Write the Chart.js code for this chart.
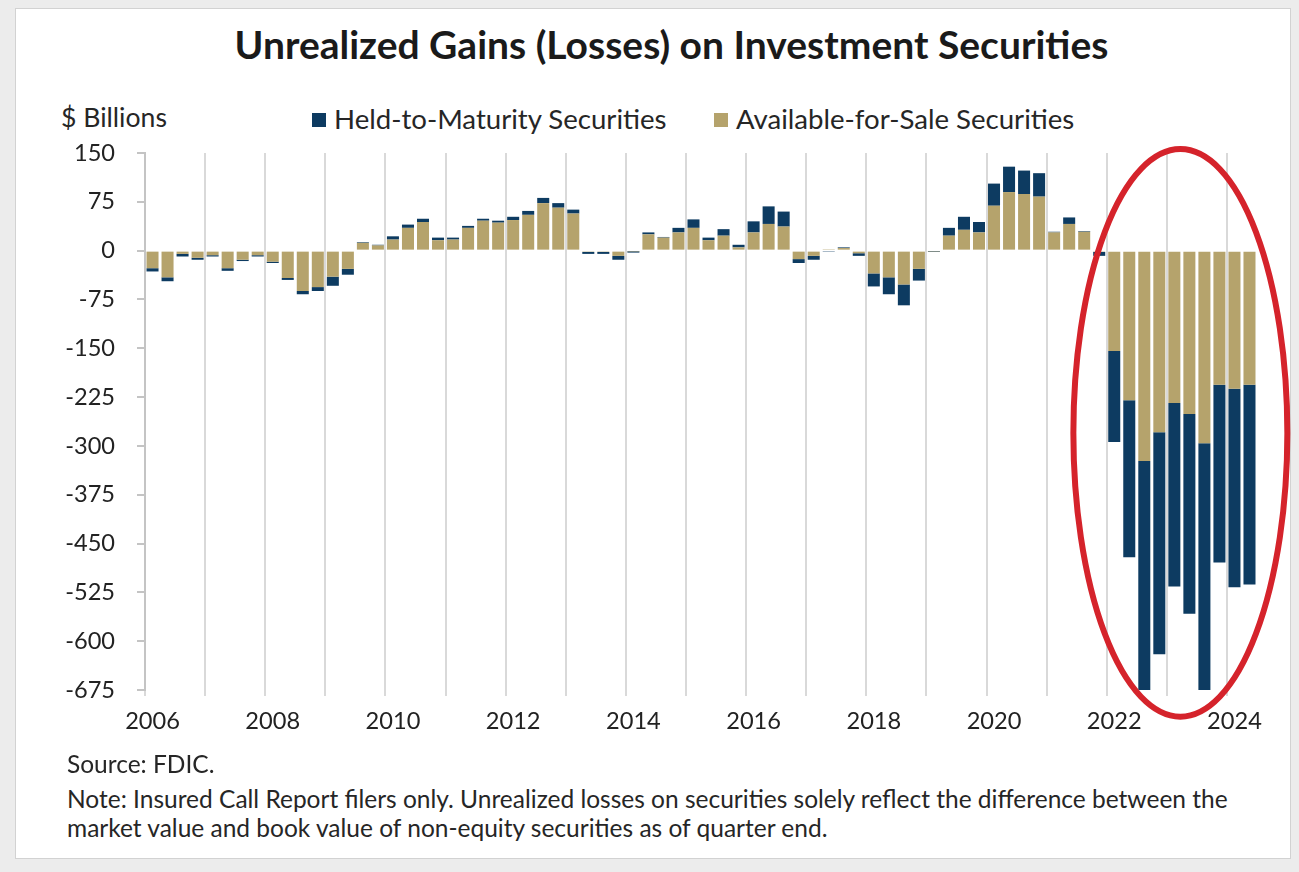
<!DOCTYPE html>
<html>
<head>
<meta charset="utf-8">
<script src="https://cdn.jsdelivr.net/npm/chart.js@4.4.1/dist/chart.umd.min.js"></script>
<style>
  html, body { margin:0; padding:0; width:1299px; height:872px; overflow:hidden; background:#ececec; }
  #panel { position:absolute; left:15px; top:8px; width:1274px; height:849px; background:#fff; border:1px solid #d2d2d2; }
  .txt { position:absolute; white-space:nowrap; line-height:1; color:#262626; font-family:Lato, "Open Sans", sans-serif; }
  #title { font-weight:700; color:#1a1a1a; }
  #chartCanvas { position:absolute; left:15px; top:130px; }
  .lg-box { position:absolute; width:14px; height:14px; }
</style>
</head>
<body>
<div id="panel"></div>
<div id="title" class="txt">Unrealized Gains (Losses) on Investment Securities</div>
<div id="yunit" class="txt">$ Billions</div>
<div id="legend"></div>
<canvas id="chartCanvas" width="1276" height="620"></canvas>
<div id="src" class="txt">Source: FDIC.</div>
<div id="note1" class="txt">Note: Insured Call Report filers only. Unrealized losses on securities solely reflect the difference between the</div>
<div id="note2" class="txt">market value and book value of non-equity securities as of quarter end.</div>
<script>
// ---------------- DATA ----------------
const years = [2006,2007,2008,2009,2010,2011,2012,2013,2014,2015,2016,2017,2018,2019,2020,2021,2022,2023,2024];
const quarterNames = ['Q1','Q2','Q3','Q4'];
const lastQuarterCount = 2; // data ends 2024 Q2
const yearTickLabels = ['2006','2008','2010','2012','2014','2016','2018','2020','2022','2024'];
const yTickValues = [150,75,0,-75,-150,-225,-300,-375,-450,-525,-600,-675];

// Available-for-Sale unrealized gains (losses), $ billions, quarterly 2006Q1..2024Q2
const afsValues = [
  -27,-41,-5,-11,      // 2006
  -7,-27,-14,-7,       // 2007
  -17,-42,-62,-56,     // 2008
  -40,-28,12,8,        // 2009
  17,35,44,16,         // 2010
  17,35,46,43,         // 2011
  47,55,73,66,         // 2012
  57,-2,-2,-8,         // 2013
  -1,25,20,28,         // 2014
  35,16,23,5,          // 2015
  28,41,37,-13,        // 2016
  -8,1,4,-4,           // 2017
  -35,-41,-52,-28,     // 2018
  -1,23,32,28,         // 2019
  69,90,87,83,         // 2020
  28,41,29,-2,         // 2021
  -154,-230,-323,-279, // 2022
  -234,-251,-296,-206, // 2023
  -212,-206            // 2024
];
// Held-to-Maturity unrealized gains (losses), $ billions
const htmValues = [
  -5,-6,-4,-3,
  -2,-4,-2,-2,
  -2,-3,-5,-6,
  -14,-9,1,1,
  5,5,5,4,
  3,3,3,3,
  5,6,8,7,
  6,-3,-3,-6,
  -2,3,1,7,
  13,4,10,4,
  17,27,23,-6,
  -6,-1,1,-4,
  -20,-26,-32,-18,
  -1,12,20,16,
  34,39,36,36,
  1,10,1,-6,
  -140,-241,-367,-341,
  -282,-307,-388,-273,
  -305,-307
];

const quarterLabels = [];
years.forEach((yr, yi) => {
  const n = yi === years.length - 1 ? lastQuarterCount : 4;
  for (let q = 0; q < n; q++) quarterLabels.push(yr + ' ' + quarterNames[q]);
});

// ---------------- FONTS / TEXT LAYOUT ----------------
const FAMILY = 'Lato, "Open Sans", sans-serif';
const mctx = document.createElement('canvas').getContext('2d');
function measure(text, weight, size) { mctx.font = weight + ' ' + size + 'px ' + FAMILY; return mctx.measureText(text).width; }
function fitSize(text, weight, target) { return Math.round(100 * target / measure(text, weight, 100) * 10) / 10; }
const noteSize = fitSize(document.getElementById('note1').textContent, 400, 1161);
const titleSize = fitSize(document.getElementById('title').textContent, 700, 873);
const unitSize = fitSize('$ Billions', 400, 106);
const legendSize = fitSize('Held-to-Maturity Securities', 400, 333);
const tickSize = fitSize('150', 400, 41);

function place(id, size, left, cy, center) {
  const el = document.getElementById(id);
  el.style.fontSize = size + 'px';
  el.style.top = (cy - size * 0.53) + 'px';
  el.style.left = left + 'px';
  if (center) el.style.transform = 'translateX(-50%)';
  return el;
}
place('title', titleSize, 671.5, 46, true);
place('yunit', unitSize, 61, 118, false);
place('src', noteSize, 67, 765, false);
place('note1', noteSize, 67, 800, false);
place('note2', noteSize, 67, 829, false);

// ---------------- PLUGINS ----------------
const legendLefts = [312, 714];
const htmlLegend = {
  id: 'htmlLegend',
  afterUpdate(chart) {
    const host = document.getElementById('legend');
    host.innerHTML = '';
    const items = Chart.defaults.plugins.legend.labels.generateLabels(chart).reverse();
    items.forEach((item, i) => {
      const box = document.createElement('div');
      box.className = 'lg-box';
      box.style.background = item.fillStyle;
      box.style.left = legendLefts[i] + 'px';
      box.style.top = (120 - 7) + 'px';
      host.appendChild(box);
      const t = document.createElement('div');
      t.className = 'txt';
      t.textContent = item.text;
      t.style.fontSize = legendSize + 'px';
      t.style.left = (legendLefts[i] + 22) + 'px';
      t.style.top = (120 - legendSize * 0.53) + 'px';
      host.appendChild(t);
    });
  }
};

// red highlight ellipse (annotation), defined in data units
const highlight = { centerIndex: 68.4, halfWidthIndex: 7.12, centerValue: -280, halfHeightValue: 436, color: '#d5232b', width: 6 };
const ellipsePlugin = {
  id: 'highlightEllipse',
  afterDraw(chart) {
    const { ctx, scales: { x, y } } = chart;
    const cx = x.getPixelForValue(highlight.centerIndex);
    const rx = x.getPixelForValue(highlight.centerIndex + highlight.halfWidthIndex) - cx;
    const cy = y.getPixelForValue(highlight.centerValue);
    const ry = Math.abs(y.getPixelForValue(highlight.centerValue + highlight.halfHeightValue) - cy);
    ctx.save();
    ctx.beginPath();
    ctx.ellipse(cx, cy, rx, ry, 0, 0, Math.PI * 2);
    ctx.strokeStyle = highlight.color;
    ctx.lineWidth = highlight.width;
    ctx.stroke();
    ctx.restore();
  }
};

// ---------------- CHART ----------------
const gridGray = '#d9d9d9';
new Chart(document.getElementById('chartCanvas'), {
  type: 'bar',
  data: {
    labels: quarterLabels,
    datasets: [
      { label: 'Available-for-Sale Securities', data: afsValues, backgroundColor: '#b5a36c', stack: 's' },
      { label: 'Held-to-Maturity Securities', data: htmValues, backgroundColor: '#0d3b61', stack: 's' }
    ]
  },
  options: {
    responsive: false,
    animation: false,
    layout: { padding: { top: 23, right: 34, left: 0, bottom: 0 } },
    datasets: { bar: { barPercentage: 0.8, categoryPercentage: 1.0 } },
    plugins: { legend: { display: false }, title: { display: false }, tooltip: { enabled: false } },
    scales: {
      x: {
        stacked: true,
        offset: true,
        grid: {
          offset: true,
          color: (c) => (c.type === 'tick' && c.index % 4 === 0) ? gridGray : 'rgba(0,0,0,0)',
          lineWidth: 2,
          drawTicks: true,
          tickLength: 6
        },
        border: { display: false },
        ticks: {
          autoSkip: false, maxRotation: 0, minRotation: 0, padding: 11,
          color: '#222', font: { family: FAMILY, size: tickSize },
          callback: function (v, i) {
            const lab = quarterLabels[i];
            const yr = lab.slice(0, 4);
            return (lab.endsWith('Q1') && yearTickLabels.includes(yr)) ? yr : '';
          }
        },
        afterFit: (s) => { s.height = 60; s.paddingLeft = 0; s.paddingRight = 0; }
      },
      y: {
        stacked: true,
        min: yTickValues[yTickValues.length - 1],
        max: yTickValues[0],
        afterBuildTicks: (s) => { s.ticks = yTickValues.map(v => ({ value: v })); },
        ticks: { padding: 22, color: '#222', font: { family: FAMILY, size: tickSize }, callback: (v) => String(v) },
        grid: { drawOnChartArea: false, drawTicks: true, tickLength: 8, color: '#c4c4c4', lineWidth: 2 },
        border: { display: true, color: '#c4c4c4', width: 2 },
        afterFit: (s) => { s.width = 130; s.paddingTop = 0; s.paddingBottom = 0; }
      }
    }
  },
  plugins: [ellipsePlugin, htmlLegend]
});
</script>
</body>
</html>
